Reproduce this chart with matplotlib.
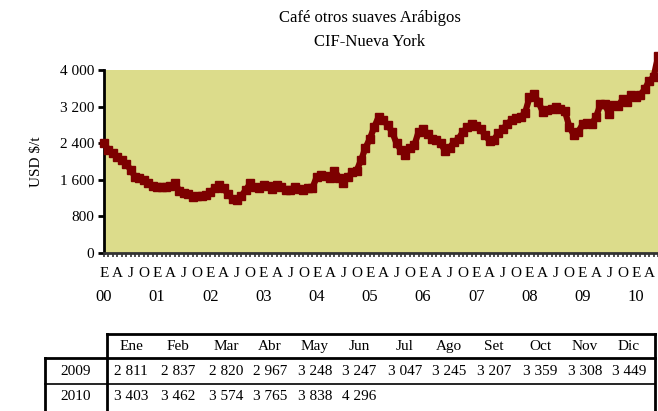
import numpy as np
import matplotlib
matplotlib.use("Agg")
import matplotlib.pyplot as plt
from matplotlib.lines import Line2D

# monthly prices, USD/t (2000-2008, 2009-2010 from table)
p2000 = [2400, 2250, 2180, 2100, 2030, 1950, 1820, 1670, 1640, 1600, 1520, 1460]
p2001 = [1450, 1450, 1450, 1460, 1520, 1360, 1310, 1280, 1230, 1250, 1240, 1270]
p2002 = [1330, 1420, 1480, 1420, 1280, 1190, 1160, 1250, 1380, 1520, 1450, 1420]
p2003 = [1480, 1470, 1390, 1480, 1450, 1380, 1380, 1440, 1400, 1380, 1410, 1420]
p2004 = [1660, 1700, 1680, 1640, 1800, 1650, 1530, 1660, 1760, 1800, 2030, 2300]
p2005 = [2500, 2760, 2980, 2900, 2800, 2650, 2400, 2250, 2150, 2300, 2350, 2650]
p2006 = [2720, 2600, 2500, 2480, 2400, 2220, 2300, 2430, 2500, 2650, 2750, 2830]
p2007 = [2780, 2700, 2580, 2450, 2480, 2620, 2700, 2830, 2900, 2950, 2980, 3060]
p2008 = [3400, 3480, 3300, 3090, 3120, 3150, 3200, 3140, 3100, 2760, 2580, 2650]
p2009 = [2811, 2837, 2820, 2967, 3248, 3247, 3047, 3245, 3207, 3359, 3308, 3449]
p2010 = [3403, 3462, 3574, 3765, 3838, 4296]

months = ["Ene", "Feb", "Mar", "Abr", "May", "Jun", "Jul", "Ago", "Set", "Oct", "Nov", "Dic"]
quarter_letters = ["E", "A", "J", "O"]
years = ["00", "01", "02", "03", "04", "05", "06", "07", "08", "09", "10"]
yticks = [0, 800, 1600, 2400, 3200, 4000]

series = p2000 + p2001 + p2002 + p2003 + p2004 + p2005 + p2006 + p2007 + p2008 + p2009 + p2010
t = np.arange(len(series)) / 12.0


def fmt(v):
    return f"{v:,}".replace(",", " ")


plt.rcParams["font.family"] = ["Liberation Serif", "DejaVu Serif"]
fig = plt.figure(figsize=(6.58, 4.11), dpi=100)
ax = fig.add_axes([104 / 658, 1 - 253 / 411, 554 / 658, 183 / 411])
ax.set_facecolor("#dcdc8b")
ax.plot(t, series, color="#7d0000", lw=4.5, marker="s", ms=6, clip_on=False, zorder=3)
ax.set_xlim(0, 554 / 53.2)
ax.set_ylim(0, 4000)

for s in ["top", "right"]:
    ax.spines[s].set_visible(False)
ax.spines["left"].set_linewidth(2)
ax.spines["bottom"].set_linewidth(2)
ax.spines["bottom"].set_color("#333333")

ax.set_yticks(yticks)
ax.set_yticklabels([fmt(v) for v in yticks], fontsize=11)
ax.tick_params(axis="y", direction="out", length=4, width=2, pad=3)

qpos = np.arange(0, 10.5, 0.25)
ax.set_xticks(qpos)
ax.set_xticklabels([quarter_letters[i % 4] for i in range(len(qpos))], fontsize=11)
ax.set_xticks(np.arange(0, 10.42, 1 / 12), minor=True)
ax.tick_params(axis="x", which="both", direction="out", length=3, width=1.2,
               color="#333333", pad=7)
for i, y in enumerate(years):
    ax.text(i, -0.195, y, transform=ax.get_xaxis_transform(), ha="center", va="top",
            fontsize=12)

ax.set_ylabel("USD $/t", fontsize=11, labelpad=12)
fig.text(370 / 658, 1 - 18 / 411, "Café otros suaves Arábigos", ha="center", va="center",
         fontsize=12)
fig.text(370 / 658, 1 - 42 / 411, "CIF-Nueva York", ha="center", va="center", fontsize=12)

# table below the chart
W, H = 658.0, 411.0


def hline(y, x0, x1, lw):
    fig.add_artist(Line2D([x0 / W, x1 / W], [1 - y / H, 1 - y / H], color="black", lw=lw))


def vline(x, y0, y1, lw):
    fig.add_artist(Line2D([x / W, x / W], [1 - y0 / H, 1 - y1 / H], color="black", lw=lw))


hline(334, 107, 655, 2)
hline(358, 45, 655, 2)
hline(384, 45, 655, 1.2)
vline(107, 334, 411, 2)
vline(655, 334, 411, 2)
vline(45, 358, 411, 2)

col_x = [131, 178, 226, 270, 315, 359, 405, 449, 494, 540, 585, 629]
for x, m in zip(col_x, months):
    fig.text(x / W, 1 - 346 / H, m, ha="center", va="center", fontsize=11)
fig.text(76 / W, 1 - 371 / H, "2009", ha="center", va="center", fontsize=11)
fig.text(76 / W, 1 - 396 / H, "2010", ha="center", va="center", fontsize=11)
for x, v in zip(col_x, p2009):
    fig.text(x / W, 1 - 371 / H, fmt(v), ha="center", va="center", fontsize=11)
for x, v in zip(col_x, p2010):
    fig.text(x / W, 1 - 396 / H, fmt(v), ha="center", va="center", fontsize=11)

fig.savefig("out.png", dpi=100)
